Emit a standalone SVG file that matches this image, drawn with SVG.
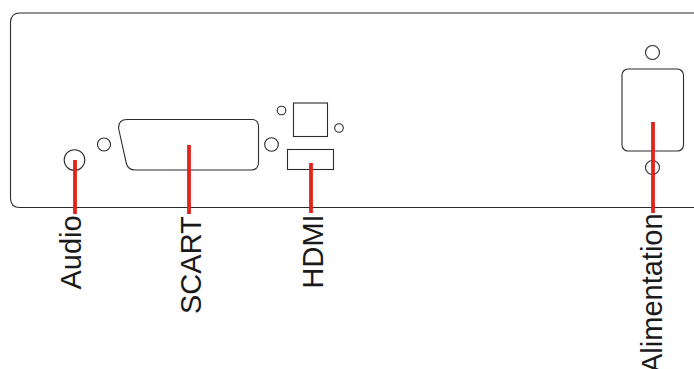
<svg xmlns="http://www.w3.org/2000/svg" width="694" height="369" viewBox="0 0 694 369">
<style>
.s{fill:none;stroke:#2b2b2b;stroke-width:1.1}
.r{fill:none;stroke:#e0241c;stroke-width:3.8}
.t{font-family:"Liberation Sans",Arial,sans-serif;font-size:29px;fill:#1a1a1a}
</style>
<rect width="694" height="369" fill="#fff"/>
<g id="chassis"><path class="s" d="M694 13H20Q11 13 10.500 22V198Q10.500 207.500 20 207.500H694"/></g>
<g id="audio">
<circle class="s" cx="74.500" cy="160" r="10.300"/>
<circle class="s" cx="104" cy="144.500" r="6.500"/>
<text class="t" transform="translate(80.500 289.500) rotate(-90)">Audio</text>
</g>
<g id="scart">
<path class="s" d="M127 119.500H252Q258.500 119.500 258.500 127V162Q258.500 170 251 170H135Q128.500 170 126.500 164L118.500 128Q118.500 119.500 127 119.500Z"/>
<circle class="s" cx="271.500" cy="144.500" r="6.800"/>
<text class="t" transform="translate(201 314) rotate(-90)">SCART</text>
</g>
<g id="hdmi">
<circle class="s" cx="281.500" cy="110.500" r="4.300"/>
<circle class="s" cx="339" cy="128" r="4.300"/>
<rect class="s" x="293.500" y="103" width="34" height="33.500"/>
<rect class="s" x="287.500" y="149.500" width="46" height="20"/>
<text class="t" transform="translate(322.500 288.500) rotate(-90)">HDMI</text>
</g>
<g id="alimentation">
<circle class="s" cx="652.500" cy="52.500" r="7"/>
<rect class="s" x="622" y="69" width="61.500" height="82" rx="6"/>
<circle class="s" cx="652.500" cy="167.500" r="7"/>
<text class="t" transform="translate(661.500 373) rotate(-90)">Alimentation</text>
</g>
<g id="connectors">
<path class="r" d="M75 160V214"/>
<path class="r" d="M189 145V214"/>
<path class="r" d="M311 163V213"/>
<path class="r" d="M653 122V213"/>
</g>
</svg>
